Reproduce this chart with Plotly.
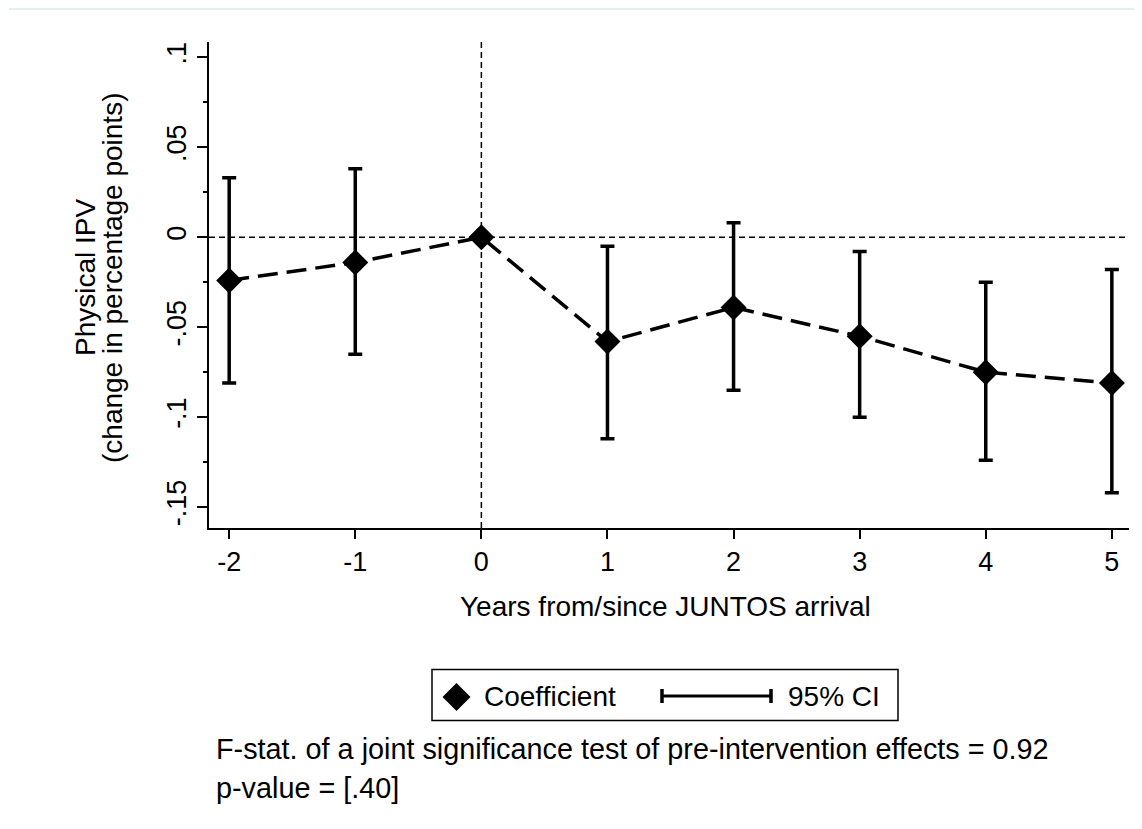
import plotly.graph_objects as go

# ---- data ----
years = [-2, -1, 0, 1, 2, 3, 4, 5]
coef = [-0.024, -0.014, 0.0, -0.058, -0.039, -0.055, -0.075, -0.081]
ci_lo = [-0.081, -0.065, None, -0.112, -0.085, -0.100, -0.124, -0.142]
ci_hi = [0.033, 0.038, None, -0.005, 0.008, -0.008, -0.025, -0.018]

x_ticks = [-2, -1, 0, 1, 2, 3, 4, 5]
x_ticktext = ["-2", "-1", "0", "1", "2", "3", "4", "5"]
y_ticks = [0.1, 0.05, 0, -0.05, -0.1, -0.15]
y_ticktext = [".1", ".05", "0", "-.05", "-.1", "-.15"]
y_minor = [0.075, 0.025, -0.025, -0.075, -0.125]

x_title = "Years from/since JUNTOS arrival"
y_title_1 = "Physical IPV"
y_title_2 = "(change in percentage points)"
legend_labels = ["Coefficient", "95% CI"]
note_1 = "F-stat. of a joint significance test of pre-intervention effects = 0.92"
note_2 = "p-value = [.40]"

# ---- geometry (screen pixels; page body has an 8px margin) ----
OFF = 8
W, H = 1142 - OFF, 829 - OFF
L, R, T, B = 209 - OFF, 21 - OFF, 42 - OFF, 309 - OFF
PW, PH = W - L - R, H - T - B
FONT = "Liberation Sans, Arial, sans-serif"


def px(x):
    return (x - OFF - L) / PW


def py(y):
    return (T + PH - (y - OFF)) / PH


ci_x = [x for x, lo in zip(years, ci_lo) if lo is not None]
ci_c = [c for c, lo in zip(coef, ci_lo) if lo is not None]
ci_up = [hi - c for c, hi, lo in zip(coef, ci_hi, ci_lo) if lo is not None]
ci_dn = [c - lo for c, lo in zip(coef, ci_lo) if lo is not None]

fig = go.Figure()
fig.add_trace(go.Scatter(
    x=ci_x, y=ci_c, mode="markers",
    marker=dict(size=1, color="rgba(0,0,0,0)"),
    error_y=dict(type="data", symmetric=False, array=ci_up, arrayminus=ci_dn,
                 color="black", thickness=3.5, width=7),
    showlegend=False, hoverinfo="skip"))
fig.add_trace(go.Scatter(
    x=years, y=coef, mode="lines+markers",
    line=dict(color="black", width=3.5, dash="20px,9px"),
    marker=dict(symbol="diamond", size=20, color="black"),
    showlegend=False))

shapes = []
# reference lines
shapes.append(dict(type="line", xref="x", yref="paper", x0=0, x1=0, y0=0, y1=1,
                   line=dict(color="black", width=1.5, dash="6px,4px"), layer="below"))
shapes.append(dict(type="line", xref="paper", yref="y", x0=0, x1=1, y0=0, y1=0,
                   line=dict(color="black", width=1.5, dash="6px,4px"), layer="below"))
# faint top line (screenshot frame)
shapes.append(dict(type="line", xref="paper", yref="paper", x0=px(9), x1=px(1142),
                   y0=py(9), y1=py(9), line=dict(color="#e8efef", width=2)))
# legend box
shapes.append(dict(type="rect", xref="paper", yref="paper", x0=px(432), x1=px(898),
                   y0=py(669.5), y1=py(720.5), line=dict(color="black", width=1.5),
                   fillcolor="white"))
# legend diamond
cx, cy, hw, hh = 456.5, 697, 14, 14
shapes.append(dict(type="path", xref="paper", yref="paper",
                   path=f"M {px(cx - hw)} {py(cy)} L {px(cx)} {py(cy - hh)} L {px(cx + hw)} {py(cy)} L {px(cx)} {py(cy + hh)} Z",
                   fillcolor="black", line=dict(color="black", width=0)))
# legend CI symbol
shapes.append(dict(type="line", xref="paper", yref="paper", x0=px(662), x1=px(771),
                   y0=py(696), y1=py(696), line=dict(color="black", width=3)))
for xx in (662, 771):
    shapes.append(dict(type="line", xref="paper", yref="paper", x0=px(xx), x1=px(xx),
                       y0=py(689), y1=py(703), line=dict(color="black", width=3.5)))

annotations = [
    dict(text=x_title, xref="paper", yref="paper", x=px(665), y=py(606),
         xanchor="center", yanchor="middle", showarrow=False,
         font=dict(size=28, color="black", family=FONT)),
    dict(text=y_title_1, xref="paper", yref="paper", x=px(85), y=py(278),
         xanchor="center", yanchor="middle", textangle=-90, showarrow=False,
         font=dict(size=28, color="black", family=FONT)),
    dict(text=y_title_2, xref="paper", yref="paper", x=px(112), y=py(278),
         xanchor="center", yanchor="middle", textangle=-90, showarrow=False,
         font=dict(size=28, color="black", family=FONT)),
    dict(text=legend_labels[0], xref="paper", yref="paper", x=px(482), y=py(696),
         xanchor="left", yanchor="middle", showarrow=False,
         font=dict(size=28, color="black", family=FONT)),
    dict(text=legend_labels[1], xref="paper", yref="paper", x=px(786), y=py(696),
         xanchor="left", yanchor="middle", showarrow=False,
         font=dict(size=28, color="black", family=FONT)),
    dict(text=note_1, xref="paper", yref="paper", x=px(214), y=py(749),
         xanchor="left", yanchor="middle", showarrow=False,
         font=dict(size=28.8, color="black", family=FONT)),
    dict(text=note_2, xref="paper", yref="paper", x=px(214), y=py(788),
         xanchor="left", yanchor="middle", showarrow=False,
         font=dict(size=28.8, color="black", family=FONT)),
]

fig.update_layout(
    width=W, height=H,
    margin=dict(l=L, r=R, t=T, b=B, pad=0),
    paper_bgcolor="white", plot_bgcolor="white",
    font=dict(family=FONT, color="black"),
    shapes=shapes, annotations=annotations,
    xaxis=dict(range=[-2.16, 5.136], tickvals=x_ticks, ticktext=x_ticktext,
               showgrid=False, zeroline=False, showline=True, linecolor="black",
               linewidth=2, ticks="outside", ticklen=9, tickwidth=2,
               tickcolor="black", tickfont=dict(size=27, color="black", family=FONT)),
    yaxis=dict(range=[-0.1616, 0.1085], tickvals=y_ticks, ticktext=y_ticktext,
               tickangle=-90, showgrid=False, zeroline=False, showline=True,
               linecolor="black", linewidth=2, ticks="outside", ticklen=10,
               tickwidth=2, tickcolor="black",
               tickfont=dict(size=27, color="black", family=FONT),
               minor=dict(tickvals=y_minor, ticks="outside", ticklen=4,
                          tickwidth=2, tickcolor="black")),
)

fig.write_html("out.html")
